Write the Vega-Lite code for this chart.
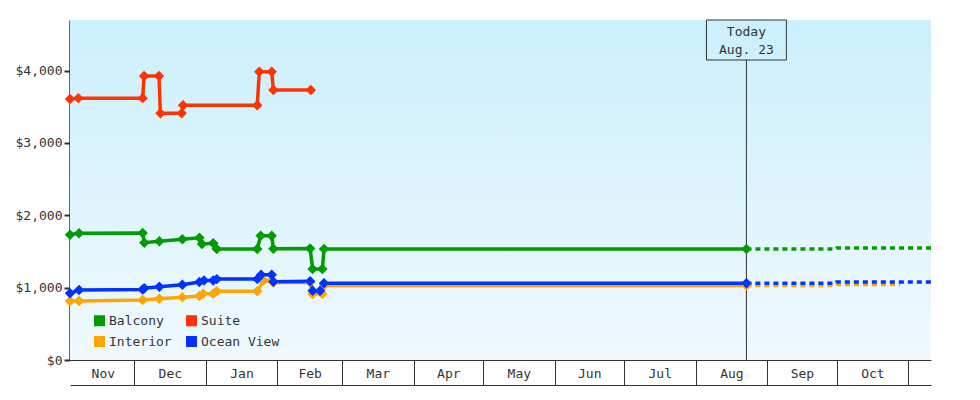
{
  "$schema": "https://vega.github.io/schema/vega-lite/v6.json",
  "width": 861,
  "height": 340,
  "autosize": {"type": "none"},
  "padding": {"left": 70, "top": 20, "right": 49, "bottom": 40},
  "background": "white",
  "datasets": {
    "history": [
      {"cabin": "Balcony", "date": "2018-11-03T07:00", "price": 1732},
      {"cabin": "Balcony", "date": "2018-11-07T05:00", "price": 1751},
      {"cabin": "Balcony", "date": "2018-12-04T18:00", "price": 1755},
      {"cabin": "Balcony", "date": "2018-12-05T11:00", "price": 1622},
      {"cabin": "Balcony", "date": "2018-12-11T23:00", "price": 1641},
      {"cabin": "Balcony", "date": "2018-12-21T22:00", "price": 1668},
      {"cabin": "Balcony", "date": "2018-12-29T07:00", "price": 1690},
      {"cabin": "Balcony", "date": "2018-12-30T10:00", "price": 1604},
      {"cabin": "Balcony", "date": "2019-01-04T07:00", "price": 1613},
      {"cabin": "Balcony", "date": "2019-01-05T19:00", "price": 1534},
      {"cabin": "Balcony", "date": "2019-01-23T08:00", "price": 1534},
      {"cabin": "Balcony", "date": "2019-01-24T19:00", "price": 1718},
      {"cabin": "Balcony", "date": "2019-01-29T14:00", "price": 1718},
      {"cabin": "Balcony", "date": "2019-01-30T07:00", "price": 1537},
      {"cabin": "Balcony", "date": "2019-02-15T05:00", "price": 1542},
      {"cabin": "Balcony", "date": "2019-02-16T07:00", "price": 1258},
      {"cabin": "Balcony", "date": "2019-02-20T12:00", "price": 1258},
      {"cabin": "Balcony", "date": "2019-02-21T05:00", "price": 1534},
      {"cabin": "Balcony", "date": "2019-08-23T00:00", "price": 1534},
      {"cabin": "Suite", "date": "2018-11-03T07:00", "price": 3608},
      {"cabin": "Suite", "date": "2018-11-06T22:00", "price": 3620},
      {"cabin": "Suite", "date": "2018-12-04T18:00", "price": 3620},
      {"cabin": "Suite", "date": "2018-12-05T08:00", "price": 3926},
      {"cabin": "Suite", "date": "2018-12-11T19:00", "price": 3926},
      {"cabin": "Suite", "date": "2018-12-12T10:00", "price": 3410},
      {"cabin": "Suite", "date": "2018-12-21T15:00", "price": 3410},
      {"cabin": "Suite", "date": "2018-12-22T05:00", "price": 3521},
      {"cabin": "Suite", "date": "2019-01-23T08:00", "price": 3521},
      {"cabin": "Suite", "date": "2019-01-24T05:00", "price": 3986},
      {"cabin": "Suite", "date": "2019-01-29T14:00", "price": 3986},
      {"cabin": "Suite", "date": "2019-01-30T07:00", "price": 3732},
      {"cabin": "Suite", "date": "2019-02-15T12:00", "price": 3732},
      {"cabin": "Interior", "date": "2018-11-03T07:00", "price": 815},
      {"cabin": "Interior", "date": "2018-11-07T05:00", "price": 815},
      {"cabin": "Interior", "date": "2018-12-04T18:00", "price": 830},
      {"cabin": "Interior", "date": "2018-12-11T23:00", "price": 848},
      {"cabin": "Interior", "date": "2018-12-21T22:00", "price": 867},
      {"cabin": "Interior", "date": "2018-12-29T07:00", "price": 885},
      {"cabin": "Interior", "date": "2018-12-30T22:00", "price": 915},
      {"cabin": "Interior", "date": "2019-01-04T07:00", "price": 915},
      {"cabin": "Interior", "date": "2019-01-05T19:00", "price": 950},
      {"cabin": "Interior", "date": "2019-01-23T08:00", "price": 950},
      {"cabin": "Interior", "date": "2019-01-26T00:00", "price": 1100},
      {"cabin": "Interior", "date": "2019-01-29T14:00", "price": 1100},
      {"cabin": "Interior", "date": "2019-01-30T07:00", "price": 1070},
      {"cabin": "Interior", "date": "2019-02-15T05:00", "price": 1070},
      {"cabin": "Interior", "date": "2019-02-16T07:00", "price": 912},
      {"cabin": "Interior", "date": "2019-02-20T12:00", "price": 912},
      {"cabin": "Interior", "date": "2019-02-21T05:00", "price": 1030},
      {"cabin": "Interior", "date": "2019-08-23T00:00", "price": 1030},
      {"cabin": "Ocean View", "date": "2018-11-03T07:00", "price": 922},
      {"cabin": "Ocean View", "date": "2018-11-07T05:00", "price": 968},
      {"cabin": "Ocean View", "date": "2018-12-04T18:00", "price": 975},
      {"cabin": "Ocean View", "date": "2018-12-05T11:00", "price": 991},
      {"cabin": "Ocean View", "date": "2018-12-11T23:00", "price": 1014},
      {"cabin": "Ocean View", "date": "2018-12-21T22:00", "price": 1040},
      {"cabin": "Ocean View", "date": "2018-12-29T07:00", "price": 1078},
      {"cabin": "Ocean View", "date": "2018-12-31T07:00", "price": 1100},
      {"cabin": "Ocean View", "date": "2019-01-04T07:00", "price": 1100},
      {"cabin": "Ocean View", "date": "2019-01-05T19:00", "price": 1118},
      {"cabin": "Ocean View", "date": "2019-01-23T08:00", "price": 1118},
      {"cabin": "Ocean View", "date": "2019-01-25T00:00", "price": 1180},
      {"cabin": "Ocean View", "date": "2019-01-29T14:00", "price": 1180},
      {"cabin": "Ocean View", "date": "2019-01-30T07:00", "price": 1083},
      {"cabin": "Ocean View", "date": "2019-02-15T05:00", "price": 1090},
      {"cabin": "Ocean View", "date": "2019-02-16T07:00", "price": 958},
      {"cabin": "Ocean View", "date": "2019-02-19T12:00", "price": 958},
      {"cabin": "Ocean View", "date": "2019-02-21T05:00", "price": 1060},
      {"cabin": "Ocean View", "date": "2019-08-23T00:00", "price": 1060}
    ],
    "forecast": [
      {"cabin": "Balcony", "date": "2019-08-23T00:00", "price": 1534},
      {"cabin": "Balcony", "date": "2019-09-30T12:00", "price": 1534},
      {"cabin": "Balcony", "date": "2019-10-01T00:00", "price": 1548},
      {"cabin": "Balcony", "date": "2019-11-10T21:00", "price": 1548},
      {"cabin": "Interior", "date": "2019-08-23T00:00", "price": 1030},
      {"cabin": "Interior", "date": "2019-09-30T12:00", "price": 1030},
      {"cabin": "Interior", "date": "2019-10-01T00:00", "price": 1045},
      {"cabin": "Interior", "date": "2019-10-28T12:00", "price": 1045},
      {"cabin": "Ocean View", "date": "2019-08-23T00:00", "price": 1060},
      {"cabin": "Ocean View", "date": "2019-09-30T12:00", "price": 1060},
      {"cabin": "Ocean View", "date": "2019-10-01T00:00", "price": 1078},
      {"cabin": "Ocean View", "date": "2019-11-10T21:00", "price": 1078}
    ],
    "today": [
      {"date": "2019-08-23T00:00", "start": "2019-08-05T17:00", "end": "2019-09-09T07:00", "label": ["Today", "Aug. 23"]}
    ]
  },
  "layer": [
    {
      "data": {"values": [{}]},
      "mark": {
        "type": "rect",
        "fill": {
          "gradient": "linear",
          "x1": 0, "y1": 0, "x2": 0, "y2": 1,
          "stops": [
            {"offset": 0, "color": "#cbeffc"},
            {"offset": 1, "color": "#f0f9fe"}
          ]
        }
      },
      "encoding": {
        "x": {
          "datum": {"year": 2018, "month": 11, "date": 3, "hours": 7},
          "type": "temporal",
          "scale": {
            "domain": [
              {"year": 2018, "month": 11, "date": 3, "hours": 7},
              {"year": 2019, "month": 11, "date": 10, "hours": 21}
            ]
          },
          "axis": {
            "orient": "bottom",
            "title": null,
            "values": [
              {"year": 2018, "month": 12, "date": 1},
              {"year": 2019, "month": 1, "date": 1},
              {"year": 2019, "month": 2, "date": 1},
              {"year": 2019, "month": 3, "date": 1},
              {"year": 2019, "month": 4, "date": 1},
              {"year": 2019, "month": 5, "date": 1},
              {"year": 2019, "month": 6, "date": 1},
              {"year": 2019, "month": 7, "date": 1},
              {"year": 2019, "month": 8, "date": 1},
              {"year": 2019, "month": 9, "date": 1},
              {"year": 2019, "month": 10, "date": 1},
              {"year": 2019, "month": 11, "date": 1}
            ],
            "labels": false,
            "grid": false,
            "tickSize": 25,
            "tickWidth": 1,
            "tickColor": "#333333",
            "domainColor": "#333333",
            "domainWidth": 1
          }
        },
        "x2": {"datum": {"year": 2019, "month": 11, "date": 10, "hours": 21}},
        "y": {
          "datum": 0,
          "type": "quantitative",
          "title": null,
          "scale": {"domain": [0, 4700], "nice": false},
          "axis": {
            "values": [0, 1000, 2000, 3000, 4000],
            "format": "$,.0f",
            "grid": false,
            "domainColor": "#333333",
            "domainWidth": 2.5,
            "tickColor": "#333333",
            "tickWidth": 2,
            "tickSize": 6,
            "labelPadding": 2
          }
        },
        "y2": {"datum": 4700}
      }
    },
    {
      "data": {"name": "today"},
      "mark": {"type": "rule", "color": "#333333", "strokeWidth": 1},
      "encoding": {
        "x": {"field": "date", "type": "temporal", "axis": null},
        "y": {"datum": 0, "type": "quantitative", "title": null},
        "y2": {"datum": 4147}
      }
    },
    {
      "data": {"name": "today"},
      "mark": {"type": "rect", "fill": "white", "fillOpacity": 0, "stroke": "#333333", "strokeWidth": 1},
      "encoding": {
        "x": {"field": "start", "type": "temporal", "axis": null},
        "x2": {"field": "end"},
        "y": {"datum": 4147, "type": "quantitative", "title": null},
        "y2": {"datum": 4700}
      }
    },
    {
      "data": {"name": "today"},
      "mark": {
        "type": "text",
        "font": "DejaVu Sans Mono",
        "fontSize": 13,
        "color": "#333333",
        "baseline": "middle",
        "align": "center",
        "lineHeight": 18
      },
      "encoding": {
        "x": {"field": "date", "type": "temporal", "axis": null},
        "y": {"datum": 4534, "type": "quantitative", "title": null},
        "text": {"field": "label"}
      }
    },
    {
      "data": {"name": "forecast"},
      "mark": {"type": "line", "strokeWidth": 3.5, "strokeDash": [5, 4]},
      "encoding": {
        "x": {"field": "date", "type": "temporal", "axis": null},
        "y": {"field": "price", "type": "quantitative", "title": null},
        "color": {"field": "cabin", "type": "nominal"}
      }
    },
    {
      "data": {"name": "history"},
      "mark": {
        "type": "line",
        "strokeWidth": 3.5,
        "point": {"filled": true, "shape": "diamond", "size": 110, "opacity": 1}
      },
      "encoding": {
        "x": {
          "field": "date",
          "type": "temporal",
          "axis": {
            "orient": "bottom",
            "title": null,
            "values": [
              {"year": 2018, "month": 11, "date": 17, "hours": 12},
              {"year": 2018, "month": 12, "date": 16, "hours": 12},
              {"year": 2019, "month": 1, "date": 16, "hours": 12},
              {"year": 2019, "month": 2, "date": 15},
              {"year": 2019, "month": 3, "date": 16, "hours": 12},
              {"year": 2019, "month": 4, "date": 16},
              {"year": 2019, "month": 5, "date": 16, "hours": 12},
              {"year": 2019, "month": 6, "date": 16},
              {"year": 2019, "month": 7, "date": 16, "hours": 12},
              {"year": 2019, "month": 8, "date": 16, "hours": 12},
              {"year": 2019, "month": 9, "date": 16},
              {"year": 2019, "month": 10, "date": 16, "hours": 12}
            ],
            "format": "%b",
            "offset": 25,
            "ticks": false,
            "tickSize": 0,
            "grid": false,
            "domain": true,
            "domainColor": "#333333",
            "domainWidth": 1,
            "labelPadding": -12,
            "labelBaseline": "middle",
            "labelAlign": "center",
            "labelBound": false,
            "labelFlush": false,
            "labelOverlap": false
          }
        },
        "y": {"field": "price", "type": "quantitative", "title": null},
        "color": {
          "field": "cabin",
          "type": "nominal",
          "scale": {
            "domain": ["Balcony", "Suite", "Interior", "Ocean View"],
            "range": ["#009c00", "#ff3300", "#ffa500", "#0033ff"]
          },
          "legend": {
            "title": null,
            "orient": "none",
            "legendX": 23,
            "legendY": 294,
            "direction": "horizontal",
            "columns": 2,
            "columnPadding": 13,
            "rowPadding": 7,
            "padding": 0,
            "symbolType": "square",
            "symbolSize": 121,
            "symbolStrokeWidth": 0,
            "symbolOpacity": 1,
            "labelOffset": 3,
            "labelFont": "DejaVu Sans Mono",
            "labelFontSize": 13,
            "labelColor": "#333333",
            "encode": {
              "symbols": {
                "update": {
                  "fill": {"scale": "color", "field": "value"},
                  "fillOpacity": {"value": 1},
                  "strokeWidth": {"value": 0}
                }
              }
            }
          }
        },
        "tooltip": [
          {"field": "cabin", "title": "Cabin"},
          {"field": "date", "type": "temporal", "title": "Date"},
          {"field": "price", "type": "quantitative", "format": "$,.0f", "title": "Price"}
        ]
      }
    }
  ],
  "resolve": {"axis": {"x": "independent"}},
  "config": {
    "view": {"stroke": null},
    "font": "DejaVu Sans Mono",
    "axis": {
      "labelFont": "DejaVu Sans Mono",
      "labelFontSize": 13,
      "labelColor": "#333333"
    }
  }
}
